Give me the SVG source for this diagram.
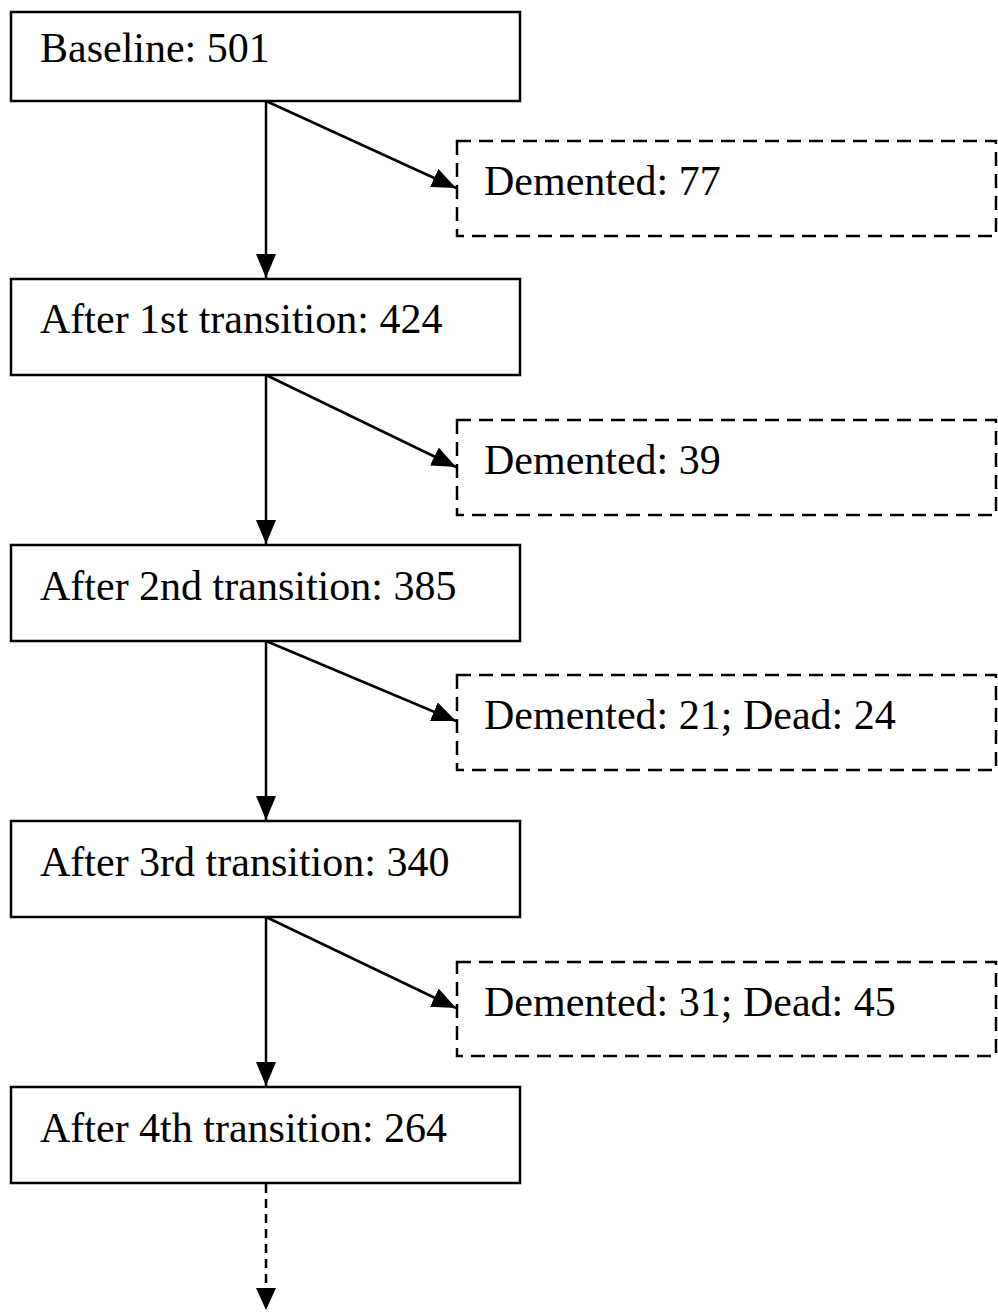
<svg xmlns="http://www.w3.org/2000/svg" width="998" height="1312" viewBox="0 0 998 1312">
<style>
.box{fill:#fff;stroke:#000;stroke-width:2.5}
.dbox{fill:#fff;stroke:#000;stroke-width:2.5;stroke-dasharray:14 8}
.t{font-family:"Liberation Serif","Times New Roman",serif;font-size:42px;fill:#000}
.c{stroke:#000;stroke-width:2.5;fill:none}
.cd{stroke:#000;stroke-width:2.5;fill:none;stroke-dasharray:9 6}
</style>
<defs>
<marker id="ah" markerUnits="userSpaceOnUse" markerWidth="24" markerHeight="20" viewBox="0 0 24 20" refX="24" refY="10" orient="auto">
<path d="M0,0 L24,10 L0,20 Z" fill="#000"/>
</marker>
</defs>
<rect width="998" height="1312" fill="#fff"/>
<g id="connectors">
<line class="c" x1="266" y1="101" x2="266" y2="278" marker-end="url(#ah)"/>
<line class="c" x1="266" y1="101" x2="456" y2="188" marker-end="url(#ah)"/>
<line class="c" x1="266" y1="375" x2="266" y2="544" marker-end="url(#ah)"/>
<line class="c" x1="266" y1="375" x2="456" y2="467" marker-end="url(#ah)"/>
<line class="c" x1="266" y1="641" x2="266" y2="820" marker-end="url(#ah)"/>
<line class="c" x1="266" y1="641" x2="456" y2="721" marker-end="url(#ah)"/>
<line class="c" x1="266" y1="917" x2="266" y2="1086" marker-end="url(#ah)"/>
<line class="c" x1="266" y1="917" x2="456" y2="1008" marker-end="url(#ah)"/>
<line class="cd" x1="266" y1="1184" x2="266" y2="1288"/>
<path d="M256,1288 L276,1288 L266,1310 Z" fill="#000"/>
</g>
<g id="n1"><rect class="box" x="11" y="12" width="509" height="89"/><text class="t" x="40" y="62">Baseline: 501</text></g>
<g id="n2"><rect class="box" x="11" y="279" width="509" height="96"/><text class="t" x="40" y="333">After 1st transition: 424</text></g>
<g id="n3"><rect class="box" x="11" y="545" width="509" height="96"/><text class="t" x="40" y="600">After 2nd transition: 385</text></g>
<g id="n4"><rect class="box" x="11" y="821" width="509" height="96"/><text class="t" x="40" y="876">After 3rd transition: 340</text></g>
<g id="n5"><rect class="box" x="11" y="1087" width="509" height="96"/><text class="t" x="40" y="1142">After 4th transition: 264</text></g>
<g id="d1"><rect class="dbox" x="457" y="141" width="539" height="95"/><text class="t" x="484" y="195">Demented: 77</text></g>
<g id="d2"><rect class="dbox" x="457" y="420" width="539" height="95"/><text class="t" x="484" y="474">Demented: 39</text></g>
<g id="d3"><rect class="dbox" x="457" y="675" width="539" height="95"/><text class="t" x="484" y="729">Demented: 21; Dead: 24</text></g>
<g id="d4"><rect class="dbox" x="457" y="962" width="539" height="94"/><text class="t" x="484" y="1016">Demented: 31; Dead: 45</text></g>
</svg>
